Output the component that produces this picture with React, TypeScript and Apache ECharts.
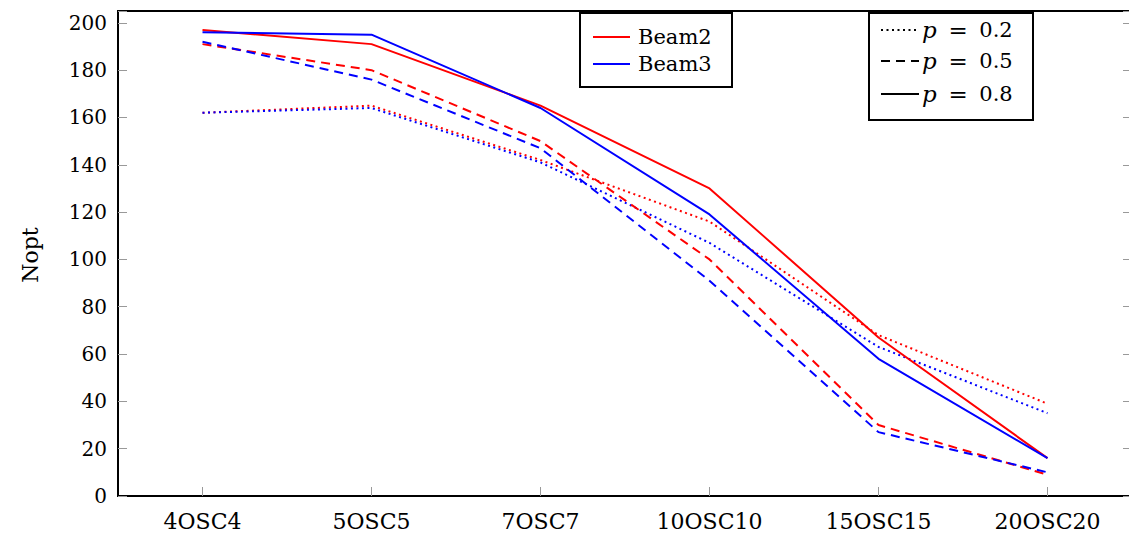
import React, { useEffect, useRef } from "react";
import * as echarts from "echarts";

const categories = ["4OSC4", "5OSC5", "7OSC7", "10OSC10", "15OSC15", "20OSC20"];
const beam2P02 = [162, 165, 142, 116, 68, 39];
const beam2P05 = [191, 180, 150, 100, 30, 9];
const beam2P08 = [197, 191, 165, 130, 67, 16];
const beam3P02 = [162, 164, 141, 107, 63, 35];
const beam3P05 = [192, 176, 147, 91, 27, 10];
const beam3P08 = [196, 195, 164, 119, 58, 16];
const yTicks = [0, 20, 40, 60, 80, 100, 120, 140, 160, 180, 200];
const beamLegend = ["Beam2", "Beam3"];
const pLegend = ["0.2", "0.5", "0.8"];

const RED = "#ff0000";
const BLUE = "#0000ff";
const FONT = "DejaVu Serif";
const DOT = [2, 3.5];
const DASH = [9, 6];

export default function App() {
  const ref = useRef<HTMLDivElement>(null);
  useEffect(() => {
    if (!ref.current) return;
    const chart = echarts.init(ref.current, null, { renderer: "svg" });
    const mk = (name: string, data: number[], color: string, type: any) => ({
      name,
      type: "line",
      data,
      symbol: "none",
      lineStyle: { color, width: 2, type, cap: "butt" },
      itemStyle: { color },
      z: 3,
    });
    const styleOf = (p: string) => (p === "0.2" ? DOT : p === "0.5" ? DASH : "solid");
    const graphic: any[] = [
      {
        type: "text",
        x: 30,
        y: 255,
        rotation: Math.PI / 2,
        style: { text: "Nopt", font: `22px "${FONT}"`, fill: "#000", align: "center", verticalAlign: "middle" },
      },
      {
        type: "rect",
        shape: { x: 580, y: 13, width: 152, height: 74 },
        style: { fill: "#fff", stroke: "#000", lineWidth: 2 },
        z: 10,
      },
      {
        type: "rect",
        shape: { x: 869, y: 13, width: 164, height: 107 },
        style: { fill: "#fff", stroke: "#000", lineWidth: 2 },
        z: 10,
      },
    ];
    beamLegend.forEach((b, i) => {
      const y = 37 + i * 27;
      graphic.push({
        type: "line",
        shape: { x1: 593, y1: y, x2: 630, y2: y },
        style: { stroke: i === 0 ? RED : BLUE, lineWidth: 2 },
        z: 11,
      });
      graphic.push({
        type: "text",
        x: 638,
        y,
        style: { text: b, font: `21px "${FONT}"`, fill: "#000", verticalAlign: "middle" },
        z: 11,
      });
    });
    pLegend.forEach((p, i) => {
      const y = [30, 61, 94][i];
      graphic.push({
        type: "line",
        shape: { x1: 881, y1: y, x2: 919, y2: y },
        style: { stroke: "#000", lineWidth: 2.2, lineDash: i === 2 ? null : styleOf(p), lineCap: "butt" },
        z: 11,
      });
      graphic.push({
        type: "text",
        x: 922,
        y,
        style: {
          text: `{i|p} {e|=} ${p}`,
          font: `21px "${FONT}"`,
          fill: "#000",
          verticalAlign: "middle",
          rich: {
            i: { fontStyle: "italic", fontFamily: FONT, fontSize: 23 },
            e: { fontFamily: FONT, fontSize: 23, padding: [0, 5, 0, 5] },
          },
        },
        z: 11,
      });
    });
    const yAxisBase = {
      type: "value",
      min: 0,
      max: 205,
      interval: 20,
      splitLine: { show: false },
      axisLine: { show: false },
      axisTick: { show: true, inside: true, length: 9, lineStyle: { color: "#999", width: 1 } },
    };
    chart.setOption({
      animation: false,
      grid: {
        show: true,
        left: 118,
        top: 11,
        width: 1014,
        height: 485,
        outerBoundsMode: "none",
        containLabel: false,
        borderColor: "#000",
        borderWidth: 2,
        backgroundColor: "transparent",
      },
      xAxis: {
        type: "category",
        data: categories,
        boundaryGap: true,
        axisLine: { show: false },
        axisTick: { show: true, inside: true, alignWithLabel: true, length: 9, lineStyle: { color: "#999", width: 1 } },
        axisLabel: { color: "#000", fontFamily: FONT, fontSize: 22, margin: 14 },
        splitLine: { show: false },
      },
      yAxis: [
        {
          ...yAxisBase,
          position: "left",
          axisLabel: {
            color: "#000",
            fontFamily: FONT,
            fontSize: 20,
            margin: 11,
            formatter: (v: number) => (yTicks.includes(v) ? String(v) : ""),
          },
        },
        { ...yAxisBase, position: "right", axisLabel: { show: false } },
      ],
      graphic,
      series: [
        mk("Beam2 p=0.2", beam2P02, RED, DOT),
        mk("Beam3 p=0.2", beam3P02, BLUE, DOT),
        mk("Beam2 p=0.5", beam2P05, RED, DASH),
        mk("Beam3 p=0.5", beam3P05, BLUE, DASH),
        mk("Beam2 p=0.8", beam2P08, RED, "solid"),
        mk("Beam3 p=0.8", beam3P08, BLUE, "solid"),
      ],
    });
    return () => chart.dispose();
  }, []);
  return <div ref={ref} style={{ position: "absolute", left: 0, top: 0, width: 1129, height: 538 }} />;
}
